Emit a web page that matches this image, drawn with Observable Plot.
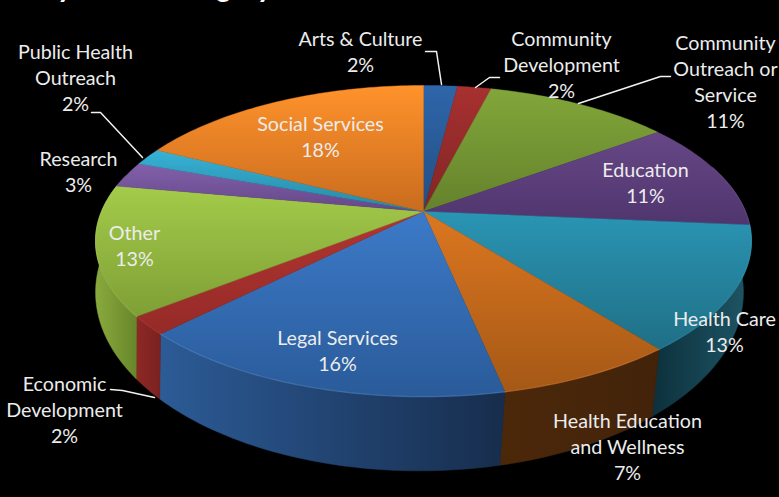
<!DOCTYPE html>
<html><head><meta charset="utf-8">
<script src="https://cdn.jsdelivr.net/npm/d3@7"></script>
<script src="https://cdn.jsdelivr.net/npm/@observablehq/plot@0.6"></script>
<style>html,body{margin:0;padding:0;background:#000;overflow:hidden}svg{display:block}</style>
</head><body><div id="chart"></div>
<script>
// Data, clockwise from twelve o'clock
const categories = ["Arts & Culture","Community\nDevelopment","Community\nOutreach or\nService","Education","Health Care","Health Education\nand Wellness","Legal Services","Economic\nDevelopment","Other","Research","Public Health\nOutreach","Social Services"];
const shares = [2,2,11,11.4,12.9,7.4,15.8,1.9,13.4,2.7,1.8,17.7];

// Colours: [top-of-slice start, end], [wall start, end]
const topStart = ["#2E66AA","#A83030","#82A63A","#674786","#2A95B4","#DC7720","#3C7AC8","#B23531","#A4CB4A","#8160A9","#36B2D6","#FF922B"];
const topEnd   = ["#234E82","#812525","#64822C","#4F356E","#1F6F86","#A55816","#2A5B9A","#952A27","#7E9F35","#65478A","#2888A4","#C96C1F"];
const wallStart = ["#223","#422","#341","#2A1E40","#0D303C","#4C280A","#2C5B96","#8E2825","#8AAA3D","#333","#123","#432"];
const wallEnd   = ["#223","#422","#341","#2A1E40","#1E5666","#42230A","#172D4D","#792220","#67862B","#333","#123","#432"];
const rimLight  = ["#4F81BD","#C0504D","#9BBB59","#8064A2","#3FA9C5","#F79646","#6FA3E0","#C0504D","#B5D566","#8064A2","#4BACC6","#F79646"];

// Layout of the perspective view, in page pixels
const W = 779, H = 497;
const cx = 423, cy = 211, a = 322, b = 150, k = 0.19;   // top disc
const cxLow = 419, aLow = 318, bLow = 172, cyLow = 258; // bottom disc
const labelCentres = [[360,50],[561,63],[725,80],[645,181],[724,330],[627,445],[337,349],[64,408],[134,244],[78,170],[75,76],[320,135]];
const leaders = [
  [[425,51],[436,51],[441,84]],
  [[499,77],[489,77],[475,87]],
  [[670,76],[660,76],[578,103]],
  [[91,112],[100,112],[142,157]],
  [[110,389],[122,390],[154,397]]
];

// Chart units: (u/w, v/w) of the projected unit disc; the scales carry them to the page
const xDomain = [-cx / a, (W - cx) / a], yDomain = [-cy / b, (H - cy) / b];
const fromPx = ([px, py]) => ({x: (px - cx) / a, y: (py - cy) / b});
const total = d3.sum(shares);
const cumulative = d3.cumsum(shares);
const angleAt = s => 2 * Math.PI * s / total;
function topPoint(t) {
  const u = Math.sin(t), v = -Math.cos(t), w = 1 - k * v;
  return {x: u / w, y: v / w};
}
function lowPoint(t) {
  const u = Math.sin(t), v = -Math.cos(t), w = 1 - k * v;
  return {x: (cxLow - cx + aLow * u / w) / a, y: (cyLow - cy + bLow * v / w) / b};
}
function arc(t0, t1, f) {
  const n = Math.max(2, Math.ceil((t1 - t0) / 0.02));
  return d3.range(n + 1).map(i => f(t0 + (t1 - t0) * i / n));
}
const slices = shares.map((s, i) => ({
  i, t0: angleAt(i ? cumulative[i - 1] : 0), t1: angleAt(cumulative[i])
}));
// Side wall is visible only over the near half of the rim
const wallFrom = angleAt(total * 0.2), wallTo = angleAt(total * 0.79);

function defs() {
  const d = d3.create("svg:defs");
  const grad = (id, x2, y2, c0, c1) => {
    const g = d.append("linearGradient").attr("id", id).attr("x1", 0).attr("y1", 0).attr("x2", x2).attr("y2", y2);
    g.append("stop").attr("offset", 0).attr("stop-color", c0);
    g.append("stop").attr("offset", 1).attr("stop-color", c1);
  };
  shares.forEach((_, i) => {
    grad(`top${i}`, 0, 1, topStart[i], topEnd[i]);
    grad(`wall${i}`, 1, 0, wallStart[i], wallEnd[i]);
  });
  return d.node();
}

const marks = [defs];
for (const {i, t0, t1} of slices) {
  const from = Math.max(t0, wallFrom), to = Math.min(t1, wallTo);
  if (from < to) {
    const pts = [...arc(from, to, topPoint), ...arc(from, to, lowPoint).reverse()];
    marks.push(Plot.line([...pts, pts[0]], {x: "x", y: "y", fill: `url(#wall${i})`, stroke: `url(#wall${i})`, strokeWidth: 0.5}));
  }
}
for (const {i, t0, t1} of slices) {
  const pts = [{x: 0, y: 0}, ...arc(t0, t1, topPoint), {x: 0, y: 0}];
  marks.push(Plot.line(pts, {x: "x", y: "y", fill: `url(#top${i})`, stroke: `url(#top${i})`, strokeWidth: 0.4}));
}
for (const {i, t0, t1} of slices) {
  const from = Math.max(t0, wallFrom), to = Math.min(t1, wallTo);
  if (from < to) marks.push(Plot.line(arc(from, to, topPoint), {x: "x", y: "y", stroke: rimLight[i], strokeWidth: 1.2, strokeOpacity: 0.35}));
}
for (const l of leaders) {
  marks.push(Plot.line(l.map(fromPx), {x: "x", y: "y", stroke: "#f2f2f2", strokeWidth: 1.5}));
}
const labelRows = categories.map((c, i) => ({...fromPx(labelCentres[i]), text: `${c}\n${Math.round(shares[i])}%`}));
marks.push(Plot.text(labelRows, {x: "x", y: "y", text: "text", fill: "#ececec", fontSize: 19.7, lineHeight: 1.33, textAnchor: "middle", fontFamily: "Lato"}));
marks.push(Plot.text(["by Focus Category"], {x: fromPx([273, 0]).x, y: fromPx([0, -3.5]).y, text: d => d, textAnchor: "end", fill: "#fff", fontSize: 30, fontStyle: "italic", fontWeight: 700, fontFamily: "Lato", lineAnchor: "bottom"}));

const chart = Plot.plot({
  width: W, height: H, margin: 0,
  style: {background: "#000", overflow: "hidden"},
  x: {domain: xDomain, range: [0, W], axis: null},
  y: {domain: yDomain, range: [0, H], axis: null},
  marks
});
document.getElementById("chart").append(chart);
</script>
</body></html>
